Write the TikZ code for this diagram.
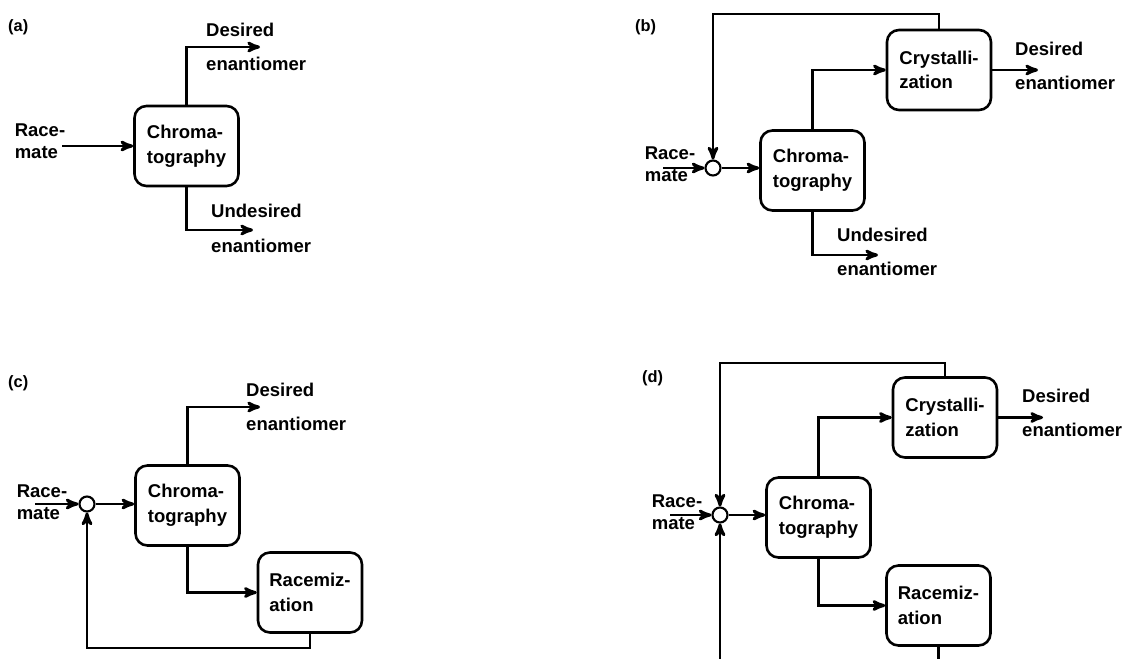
\documentclass[tikz,border=0pt]{standalone}
\usepackage{fontspec}
\setmainfont{Liberation Sans}
\usetikzlibrary{calc}
\usetikzlibrary{arrows}
\usetikzlibrary{positioning}

\begin{document}
\begin{tikzpicture} [x=0.03cm, y=-0.03cm,
  proc/.style={draw, line width=2.2pt, rounded corners=0.36cm, minimum width=3.12cm, minimum height=2.4cm, align=left, inner sep=2pt, font=\fontsize{15.8}{21}\selectfont\bfseries},
  mixer/.style={draw, circle, line width=1.8pt, minimum size=0.45cm, inner sep=0pt},
  feed/.style={align=left, inner sep=0pt, font=\fontsize{15.8}{19}\selectfont\bfseries},
  lbl/.style={anchor=west, inner sep=0pt, font=\fontsize{15.8}{19}\selectfont\bfseries},
  flow/.style={line width=2.5pt, ->, >=stealth'}]
\useasboundingbox (0,0) rectangle (1135,658);
\fill[white] (0,0) rectangle (1135,658);

% (a)
\node[lbl, font=\fontsize{14}{16}\selectfont\bfseries] (pa) at (8,27) {(a)};
\node[proc] (ca) at (186.5,146) {Chroma-\\tography};
\node[feed] (ra) at (40,141) {Race-\\mate};
\coordinate (ra0) at (62,146);
\draw[flow] (ra0) -- (ca.west);
\coordinate (da) at (260,47);
\draw[flow] (ca.north) |- (da);
\node[lbl] (da1) at (206,30) {Desired};
\node[lbl] (da2) at (206,64) {enantiomer};
\coordinate (ua) at (253,230);
\draw[flow] (ca.south) |- (ua);
\node[lbl] (ua1) at (211,211) {Undesired};
\node[lbl] (ua2) at (211,246) {enantiomer};

% (b)
\node[lbl, font=\fontsize{14}{16}\selectfont\bfseries] (pb) at (635,27) {(b)};
\node[mixer] (mb) at (713,168) {};
\node[feed] (rb) at (670,164.5) {Race-\\mate};
\coordinate (rb0) at (663,168);
\draw[flow] (rb0) -- (mb.west);
\node[proc] (cb) at (812.5,170.5) {Chroma-\\tography};
\draw[flow] (mb.east) -- (mb.east -| cb.west);
\node[proc] (xb) at (939,70) {Crystalli-\\zation};
\draw[flow] (cb.north) |- (xb.west);
\coordinate (db) at (1038,70);
\draw[flow] (xb.east) -- (db);
\node[lbl] (db1) at (1015,49) {Desired};
\node[lbl] (db2) at (1015,83) {enantiomer};
\coordinate (tb) at (713,14);
\draw[flow] (xb.north) |- (tb) -- (mb.north);
\coordinate (ub) at (878,255);
\draw[flow] (cb.south) |- (ub);
\node[lbl] (ub1) at (837,235) {Undesired};
\node[lbl] (ub2) at (837,269) {enantiomer};

% (c)
\node[lbl, font=\fontsize{14}{16}\selectfont\bfseries] (pc) at (8,383) {(c)};
\node[mixer] (mc) at (87,504) {};
\node[feed] (rc) at (42,502) {Race-\\mate};
\coordinate (rc0) at (35,504);
\draw[flow] (rc0) -- (mc.west);
\node[proc] (cc) at (187.5,505.5) {Chroma-\\tography};
\draw[flow] (mc.east) -- (mc.east -| cc.west);
\coordinate (dc) at (260,407);
\draw[flow] (cc.north) |- (dc);
\node[lbl] (dc1) at (246,390) {Desired};
\node[lbl] (dc2) at (246,424) {enantiomer};
\node[proc] (zc) at (310,592.5) {Racemiz-\\ation};
\draw[flow] (cc.south) |- (zc.west);
\coordinate (bc) at (87,648);
\draw[flow] (zc.south) -- (zc.south |- bc) -| (mc.south);

% (d)
\node[lbl, font=\fontsize{14}{16}\selectfont\bfseries] (pd) at (642,378) {(d)};
\node[mixer] (md) at (720,515) {};
\node[feed] (rd) at (677,512.5) {Race-\\mate};
\coordinate (rd0) at (670,515);
\draw[flow] (rd0) -- (md.west);
\node[proc] (cd) at (818.5,517.5) {Chroma-\\tography};
\draw[flow] (md.east) -- (md.east -| cd.west);
\node[proc] (xd) at (945,417.5) {Crystalli-\\zation};
\draw[flow] (cd.north) |- (xd.west);
\coordinate (dd) at (1043,417.5);
\draw[flow] (xd.east) -- (dd);
\node[lbl] (dd1) at (1022,396) {Desired};
\node[lbl] (dd2) at (1022,430) {enantiomer};
\coordinate (td) at (720,363);
\draw[flow] (xd.north) |- (td) -- (md.north);
\node[proc] (zd) at (938.5,605.5) {Racemiz-\\ation};
\draw[flow] (cd.south) |- (zd.west);
\coordinate (bd) at (720,670);
\draw[line width=2.5pt] (zd.south) -- (zd.south |- bd);
\draw[flow] (bd) -- (md.south);
\end{tikzpicture}
\end{document}
